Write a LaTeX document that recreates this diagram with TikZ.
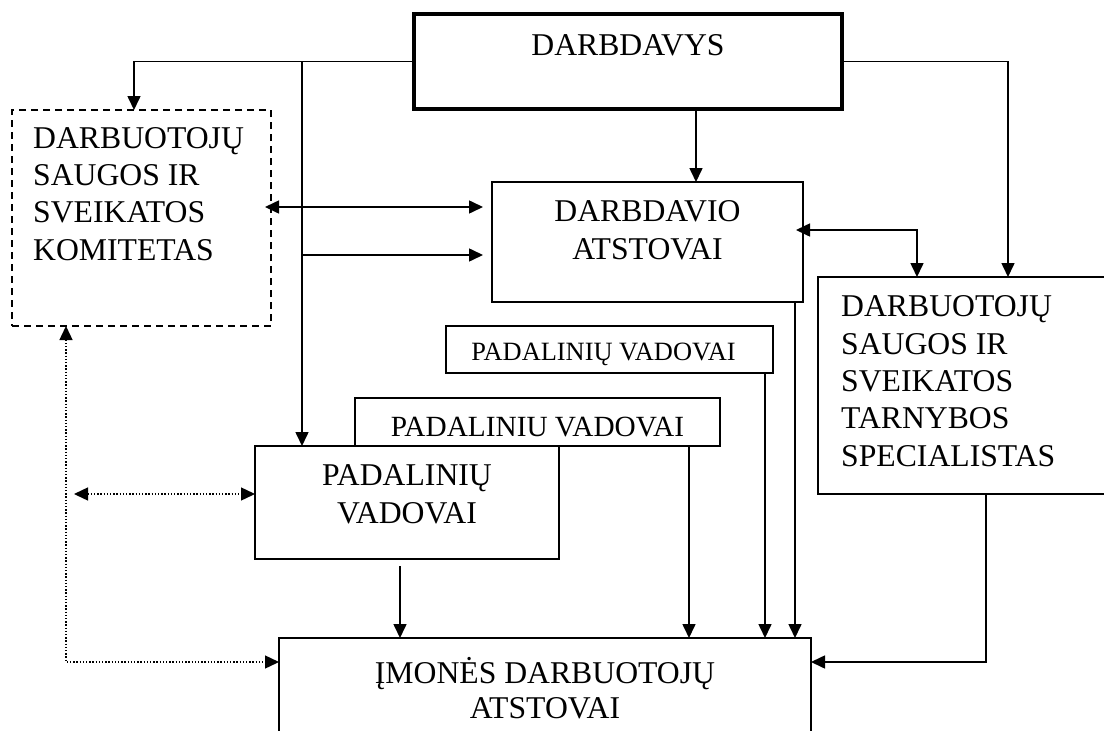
\documentclass[tikz,border=0pt]{standalone}
\usepackage{fontspec}
\setmainfont{Liberation Serif}
\usetikzlibrary{arrows.meta,calc}
\begin{document}
\begin{tikzpicture}[x=1pt,y=-1pt,
  box/.style={draw, line width=1.6pt, fill=white, inner sep=0pt, outer sep=0pt, anchor=north west},
  thickbox/.style={box, line width=3.6pt},
  dashbox/.style={box, dash pattern=on 7pt off 5pt},
  txt/.style={inner sep=0pt, font=\fontsize{31.7}{37.3}\selectfont},
  conn/.style={line width=1.6pt, -{Triangle[length=14pt,width=13pt]}},
  dconn/.style={line width=1.6pt, {Triangle[length=14pt,width=13pt]}-{Triangle[length=14pt,width=13pt]}},
  dotconn/.style={line width=1.4pt, dash pattern=on 1.4pt off 1.8pt, {Triangle[length=14pt,width=13pt]}-{Triangle[length=14pt,width=13pt]}}
]
\useasboundingbox (0,0) rectangle (1104,731);
\clip (0,0) rectangle (1104,731);

% boxes
\node[thickbox, minimum width=428pt, minimum height=95pt] (darbdavys) at (414,14) {};
\node[dashbox, minimum width=259pt, minimum height=216pt] (komitetas) at (12,110) {};
\node[box, minimum width=311pt, minimum height=120pt] (atstovai) at (492,182) {};
\node[box, minimum width=300pt, minimum height=217pt] (spec) at (818,277) {};
\node[box, minimum width=327pt, minimum height=47pt] (pv1) at (446,326) {};
\node[box, minimum width=365pt, minimum height=48pt] (pv2) at (355,398) {};
\node[box, minimum width=304pt, minimum height=113pt] (pv3) at (255,446) {};
\node[box, minimum width=532pt, minimum height=120pt] (imones) at (279,638) {};

% texts (base anchor = baseline of the last line)
\node[txt, anchor=base] (tdarbdavys) at (628,55) {DARBDAVYS};
\node[txt, align=left, anchor=base west] (tkomitetas) at (33,260) {DARBUOTOJŲ\\SAUGOS IR\\SVEIKATOS\\KOMITETAS};
\node[txt, align=center, anchor=base] (tatstovai) at (647.5,259) {DARBDAVIO\\ATSTOVAI};
\node[txt, align=left, anchor=base west] (tspec) at (841,466) {DARBUOTOJŲ\\SAUGOS IR\\SVEIKATOS\\TARNYBOS\\SPECIALISTAS};
\node[txt, font=\fontsize{26.4}{30}\selectfont, anchor=base] (tpv1) at (603.5,360) {PADALINIŲ VADOVAI};
\node[txt, font=\fontsize{29.3}{34}\selectfont, anchor=base] (tpv2) at (537.5,436) {PADALINIU VADOVAI};
\node[txt, font=\fontsize{31.7}{38}\selectfont, align=center, anchor=base] (tpv3) at (407,523) {PADALINIŲ\\VADOVAI};
\node[txt, font=\fontsize{31.7}{35}\selectfont, align=center, anchor=base] (timones) at (545,718) {ĮMONĖS DARBUOTOJŲ\\ATSTOVAI};

% connectors
\draw[conn] (darbdavys.west) -| ($(komitetas.north west)+(122,0)$);
\draw[conn] ($(darbdavys.west)+(-112,0)$) -- ($(pv3.north west)+(47,0)$);
\draw[conn] ($(darbdavys.south west)+(282,0)$) -- ($(atstovai.north west)+(204,0)$);
\draw[conn] (darbdavys.east) -| ($(spec.north west)+(190,0)$);
\draw[dconn] ($(komitetas.north east)+(-6,97)$) -- ($(atstovai.north west)+(-9,25)$);
\draw[conn] ($(darbdavys.west)+(-112,193.5)$) -- ($(atstovai.north west)+(-9,73)$);
\draw[dconn] ($(atstovai.north east)+(-7,48)$) -| ($(spec.north west)+(99,0)$);
\draw[dotconn] ($(komitetas.south west)+(54,0)$) |- ($(imones.north west)+(0,24)$);
\draw[dotconn] ($(pv3.north west)+(-181,48)$) -- ($(pv3.north west)+(0,48)$);
\draw[conn] ($(pv3.south west)+(145,7)$) -- ($(imones.north west)+(121,0)$);
\draw[conn] ($(pv2.south west)+(334,0)$) -- ($(imones.north west)+(410,0)$);
\draw[conn] ($(pv1.south west)+(319,0)$) -- ($(imones.north west)+(486,0)$);
\draw[conn] ($(atstovai.south west)+(303,0)$) -- ($(imones.north west)+(516,0)$);
\draw[conn] ($(spec.south west)+(168,0)$) |- ($(imones.north east)+(0,24)$);
\end{tikzpicture}
\end{document}
